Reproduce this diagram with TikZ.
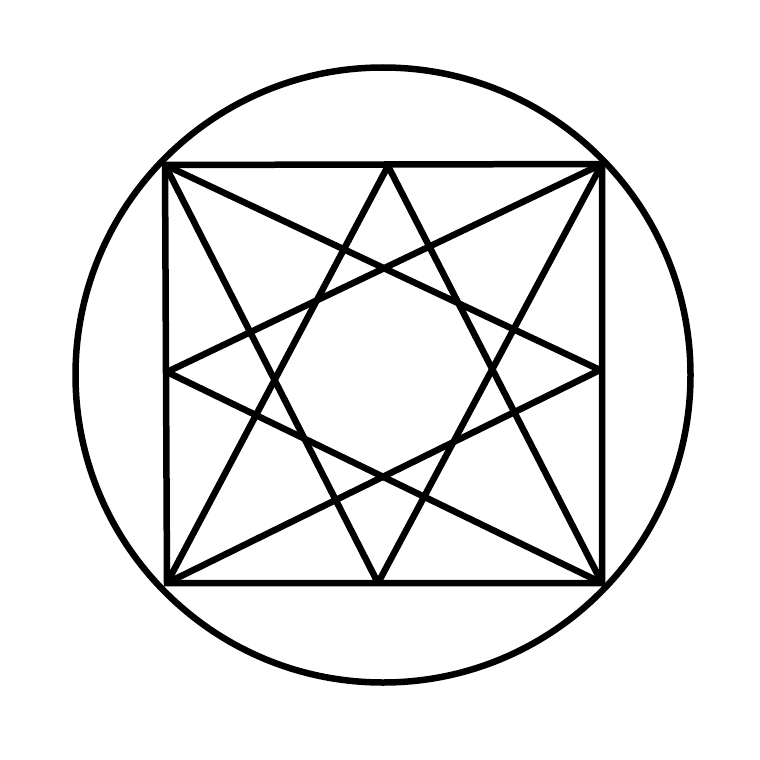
\documentclass[tikz,border=0pt]{standalone}
\begin{document}
\begin{tikzpicture}[x=1pt,y=-1pt,line join=miter,
  stroke/.style={draw=black,line width=6.5pt}]
\useasboundingbox (0,0) rectangle (760,760);
\fill[white] (0,0) rectangle (760,760);
\coordinate (O) at (383,375);
\coordinate (TL) at (165,165);
\coordinate (TR) at (602,164);
\coordinate (BR) at (602,583);
\coordinate (BL) at (167,583);
\coordinate (T) at (388,166);
\coordinate (R) at (600,370);
\coordinate (B) at (378,583);
\coordinate (L) at (167,372);
\draw[stroke] (O) circle[radius=307.5];
\draw[stroke] (TL) -- (TR) -- (BR) -- (BL) -- cycle;
\draw[stroke] (TL) -- (R);
\draw[stroke] (TL) -- (B);
\draw[stroke] (TR) -- (L);
\draw[stroke] (TR) -- (B);
\draw[stroke] (BL) -- (T);
\draw[stroke] (BL) -- (R);
\draw[stroke] (BR) -- (T);
\draw[stroke] (BR) -- (L);
\end{tikzpicture}
\end{document}
